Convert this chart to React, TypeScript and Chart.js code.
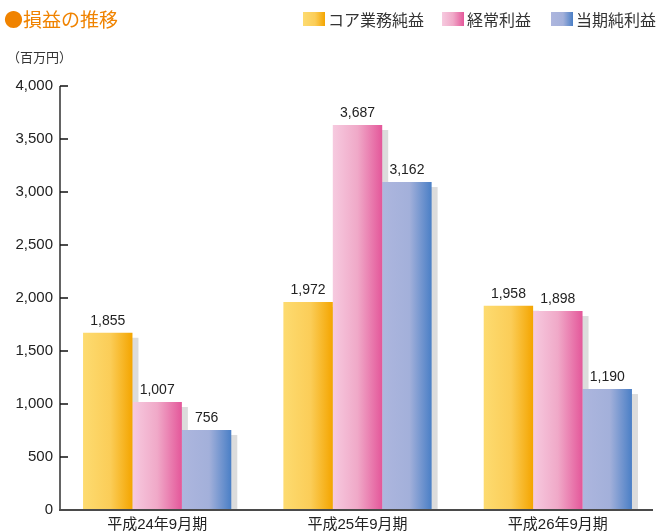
import React, { useEffect, useRef } from 'react';
import { Chart, registerables } from 'chart.js';

Chart.register(...registerables);

const categories = ['平成24年9月期', '平成25年9月期', '平成26年9月期'];
const seriesNames = ['コア業務純益', '経常利益', '当期純利益'];
// bar heights as drawn in the reference (百万円)
const coreProfit = [1672, 1962, 1927];
const ordinaryProfit = [1019, 3632, 1877];
const netProfit = [755, 3094, 1141];
// figures printed above the bars
const coreProfitLabels = ['1,855', '1,972', '1,958'];
const ordinaryProfitLabels = ['1,007', '3,687', '1,898'];
const netProfitLabels = ['756', '3,162', '1,190'];
const yMin = 0;
const yMax = 4000;
const yStep = 500;

const FONT = '"Liberation Sans", "Noto Sans CJK JP", sans-serif';
const CJK = '"Noto Sans CJK JP", "Liberation Sans", sans-serif';

const gradients: [number, string][][] = [
  [[0, '#fddb70'], [0.55, '#fbcd58'], [1, '#f4a500']],
  [[0, '#f6cadf'], [0.5, '#f0a9c8'], [1, '#e4579a']],
  [[0, '#adb6de'], [0.55, '#a3b0da'], [1, '#4a7fc6']],
];
const cssGrad = (stops: [number, string][]) =>
  `linear-gradient(to right, ${stops.map(([o, c]) => `${c} ${o * 100}%`).join(', ')})`;

const valueLabels = [coreProfitLabels, ordinaryProfitLabels, netProfitLabels];

const decorPlugin = {
  id: 'decor',
  beforeDatasetsDraw(chart: any) {
    const ctx = chart.ctx;
    ctx.save();
    ctx.fillStyle = '#dcdcdc';
    chart.data.datasets.forEach((_ds: any, i: number) => {
      const meta = chart.getDatasetMeta(i);
      meta.data.forEach((el: any) => {
        const { x, y, base, width } = el.getProps(['x', 'y', 'base', 'width'], true);
        ctx.fillRect(x - width / 2 + 6, y + 5, width, base - y - 5);
        const g = ctx.createLinearGradient(x - width / 2, 0, x + width / 2, 0);
        gradients[i].forEach(([o, c]) => g.addColorStop(o, c));
        el.options = { ...el.options, backgroundColor: g, borderWidth: 0 };
      });
    });
    ctx.restore();
  },
  afterDatasetsDraw(chart: any) {
    const ctx = chart.ctx;
    ctx.save();
    ctx.fillStyle = '#222';
    ctx.font = `14px ${FONT}`;
    ctx.textAlign = 'center';
    ctx.textBaseline = 'middle';
    chart.data.datasets.forEach((_ds: any, i: number) => {
      const meta = chart.getDatasetMeta(i);
      meta.data.forEach((el: any, j: number) => {
        const { x, y } = el.getProps(['x', 'y'], true);
        ctx.fillText(valueLabels[i][j], x, y - 12);
      });
    });
    // axes
    const ys = chart.scales.y;
    const area = chart.chartArea;
    const ax = area.left + 3;
    ctx.strokeStyle = '#111';
    ctx.lineWidth = 1.3;
    ctx.beginPath();
    ctx.moveTo(ax, ys.getPixelForValue(yMax));
    ctx.lineTo(ax, ys.getPixelForValue(yMin));
    for (let v = yMin + yStep; v <= yMax; v += yStep) {
      const py = ys.getPixelForValue(v);
      ctx.moveTo(ax, py);
      ctx.lineTo(ax + 8, py);
    }
    ctx.stroke();
    ctx.strokeStyle = '#4a4a4a';
    ctx.lineWidth = 2;
    ctx.beginPath();
    const by = ys.getPixelForValue(yMin);
    ctx.moveTo(ax - 1, by);
    ctx.lineTo(area.right - 5, by);
    ctx.stroke();
    ctx.restore();
  },
};

export default function App() {
  const ref = useRef<HTMLCanvasElement>(null);
  useEffect(() => {
    if (!ref.current) return;
    const chart = new Chart(ref.current, {
      type: 'bar',
      data: {
        labels: categories,
        datasets: [
          { label: seriesNames[0], data: coreProfit },
          { label: seriesNames[1], data: ordinaryProfit },
          { label: seriesNames[2], data: netProfit },
        ],
      },
      options: {
        responsive: false,
        animation: false,
        devicePixelRatio: 1,
        layout: { padding: { top: 86, right: 6, bottom: 0, left: 0 } },
        datasets: {
          bar: { categoryPercentage: 0.74, barPercentage: 1, backgroundColor: '#ccc', borderWidth: 0 },
        },
        plugins: {
          legend: { display: false },
          tooltip: { enabled: false },
          title: { display: false },
        },
        scales: {
          x: {
            grid: { display: false, drawTicks: false, tickLength: 0 },
            border: { display: false },
            ticks: { font: { size: 15, family: FONT }, color: '#222', padding: 6, maxRotation: 0 },
            afterFit: (s: any) => {
              s.height = 21;
            },
          },
          y: {
            min: yMin,
            max: yMax,
            grid: { display: false, drawTicks: false, tickLength: 0 },
            border: { display: false },
            ticks: {
              stepSize: yStep,
              font: { size: 15, family: FONT },
              color: '#222',
              padding: 4,
              callback: (v: any) => Number(v).toLocaleString('en-US'),
            },
            afterFit: (s: any) => {
              s.width = 57;
            },
          },
        },
      },
      plugins: [decorPlugin],
    });
    return () => chart.destroy();
  }, []);

  const legendLeft = [303, 442, 551];

  return (
    <div style={{ position: 'absolute', left: 0, top: 0, width: 664, height: 531, background: '#fff', overflow: 'hidden' }}>
      <canvas ref={ref} width={664} height={531} style={{ display: 'block', position: 'absolute', left: 0, top: 0 }} />
      <div style={{ position: 'absolute', left: 4, top: 9, fontFamily: CJK, fontSize: 19, lineHeight: '20px', color: '#f08300', whiteSpace: 'nowrap' }}>
        ●損益の推移
      </div>
      <div style={{ position: 'absolute', left: 7, top: 48, fontFamily: CJK, fontSize: 13, lineHeight: '18px', color: '#333', whiteSpace: 'nowrap' }}>
        （百万円）
      </div>
      {seriesNames.map((name, i) => (
        <div key={name} style={{ position: 'absolute', left: legendLeft[i], top: 10, height: 18, display: 'flex', alignItems: 'center', whiteSpace: 'nowrap' }}>
          <span style={{ display: 'inline-block', width: 22, height: 14, background: cssGrad(gradients[i]), marginRight: 3 }} />
          <span style={{ fontFamily: CJK, fontSize: 16, lineHeight: '18px', color: '#333' }}>{name}</span>
        </div>
      ))}
    </div>
  );
}
